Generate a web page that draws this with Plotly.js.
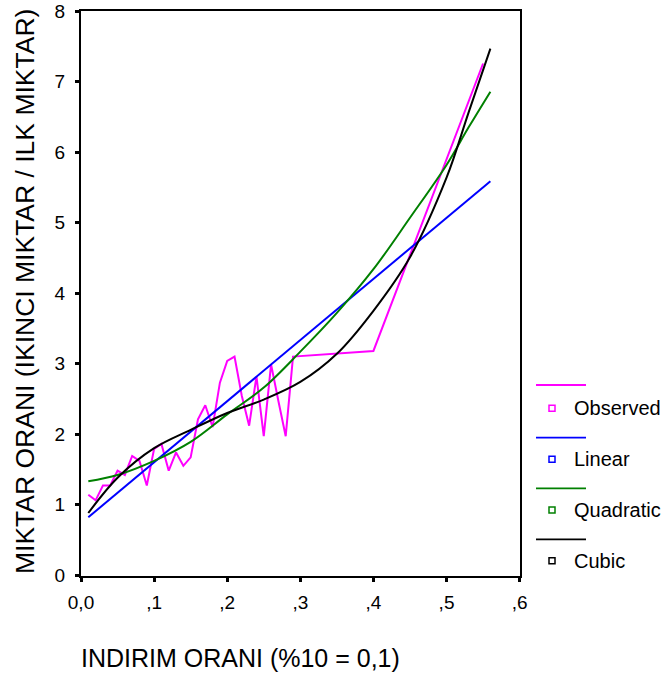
<!DOCTYPE html>
<html>
<head>
<meta charset="utf-8">
<script src="https://cdn.plot.ly/plotly-3.0.1.min.js"></script>
<style>html,body{margin:0;padding:0;background:#fff;}#chart{width:666px;height:684px;}</style>
</head>
<body>
<div id="chart"></div>
<script>
// Observed data
const obsX = [0.01,0.02,0.03,0.04,0.05,0.06,0.07,0.08,0.09,0.10,0.11,0.12,0.13,0.14,0.15,0.16,0.17,0.18,0.19,0.20,0.21,0.22,0.23,0.24,0.25,0.26,0.27,0.28,0.29,0.40,0.55];
const obsY = [1.14,1.06,1.27,1.27,1.48,1.42,1.69,1.62,1.27,1.79,1.86,1.48,1.74,1.55,1.67,2.21,2.41,2.10,2.73,3.04,3.10,2.54,2.12,2.82,1.97,2.99,2.47,1.97,3.10,3.18,7.26];
// Fitted curves
const linX = [0.01,0.56];
const linY = [0.82,5.59];
const fitX = [0.01,0.05,0.10,0.15,0.20,0.25,0.30,0.35,0.40,0.45,0.50,0.53,0.56];
const quadY = [1.33,1.42,1.62,1.89,2.28,2.66,3.17,3.72,4.34,5.07,5.82,6.35,6.86];
const cubY = [0.88,1.38,1.80,2.06,2.30,2.49,2.74,3.14,3.75,4.51,5.64,6.56,7.47];
const xTickVals = [0,0.1,0.2,0.3,0.4,0.5,0.6];
const xTickText = ['0,0',',1',',2',',3',',4',',5',',6'];
const yTickVals = [0,1,2,3,4,5,6,7,8];
const seriesNames = ['Observed','Linear','Quadratic','Cubic'];
const seriesColors = ['#FF00FF','#0000FF','#008000','#000000'];

const FONT = 'Liberation Sans, Arial, sans-serif';
const traces = [
  {x: obsX, y: obsY, mode: 'lines', name: seriesNames[0], line: {color: seriesColors[0], width: 2}},
  {x: linX, y: linY, mode: 'lines', name: seriesNames[1], line: {color: seriesColors[1], width: 2}},
  {x: fitX, y: quadY, mode: 'lines', name: seriesNames[2], line: {color: seriesColors[2], width: 2, shape: 'spline'}},
  {x: fitX, y: cubY, mode: 'lines', name: seriesNames[3], line: {color: seriesColors[3], width: 2, shape: 'spline'}}
];

// plot area geometry in px
const L = 81, T = 11, W = 439, H = 565;
const px2x = p => (p - L) / W;
const px2y = p => (T + H - p) / H;

const shapes = [];
const annotations = [];
const lineYpx = [385, 437.7, 488.3, 539.3];
const sqYpx = [408.3, 459.3, 510, 560.7];
for (let i = 0; i < seriesNames.length; i++) {
  shapes.push({type: 'line', xref: 'paper', yref: 'paper',
    x0: px2x(536), x1: px2x(586), y0: px2y(lineYpx[i]), y1: px2y(lineYpx[i]),
    line: {color: seriesColors[i], width: 1.8}});
  shapes.push({type: 'rect', xref: 'paper', yref: 'paper',
    x0: px2x(549), x1: px2x(555), y0: px2y(sqYpx[i] + 3), y1: px2y(sqYpx[i] - 3),
    line: {color: seriesColors[i], width: 1.5}, fillcolor: 'rgba(0,0,0,0)'});
  annotations.push({xref: 'paper', yref: 'paper', x: px2x(572), y: px2y(sqYpx[i]),
    xanchor: 'left', yanchor: 'middle', showarrow: false, text: seriesNames[i],
    font: {family: FONT, size: 20, color: '#000'}});
}
annotations.push({xref: 'paper', yref: 'paper', x: px2x(79), y: px2y(658),
  xanchor: 'left', yanchor: 'middle', showarrow: false,
  text: 'INDIRIM ORANI (%10 = 0,1)', font: {family: FONT, size: 25, color: '#000'}});
annotations.push({xref: 'paper', yref: 'paper', x: px2x(25), y: px2y(292),
  xanchor: 'center', yanchor: 'middle', showarrow: false, textangle: -90,
  text: 'MIKTAR ORANI (IKINCI MIKTAR / ILK MIKTAR)', font: {family: FONT, size: 26.5, color: '#000'}});

const layout = {
  width: 666, height: 684,
  margin: {l: L, r: 666 - L - W, t: T, b: 684 - T - H, pad: 0},
  paper_bgcolor: '#fff', plot_bgcolor: '#fff',
  showlegend: false,
  font: {family: FONT, color: '#000'},
  xaxis: {range: [0, 0.6005], tickvals: xTickVals, ticktext: xTickText,
    showgrid: false, zeroline: false, showline: true, mirror: true,
    linecolor: '#000', linewidth: 2, ticks: 'outside', ticklen: 4, tickwidth: 3,
    tickcolor: '#000', tickfont: {family: FONT, size: 19, color: '#000'}, ticklabelstandoff: 4,
    ticklabeloverflow: 'allow'},
  yaxis: {range: [-0.014, 8.005], tickvals: yTickVals,
    showgrid: false, zeroline: false, showline: true, mirror: true,
    linecolor: '#000', linewidth: 2, ticks: 'outside', ticklen: 4, tickwidth: 3,
    tickcolor: '#000', tickfont: {family: FONT, size: 19, color: '#000'}, ticklabelstandoff: 6,
    ticklabeloverflow: 'allow'},
  shapes: shapes,
  annotations: annotations
};
Plotly.newPlot('chart', traces, layout, {displayModeBar: false, staticPlot: true});
</script>
</body>
</html>
